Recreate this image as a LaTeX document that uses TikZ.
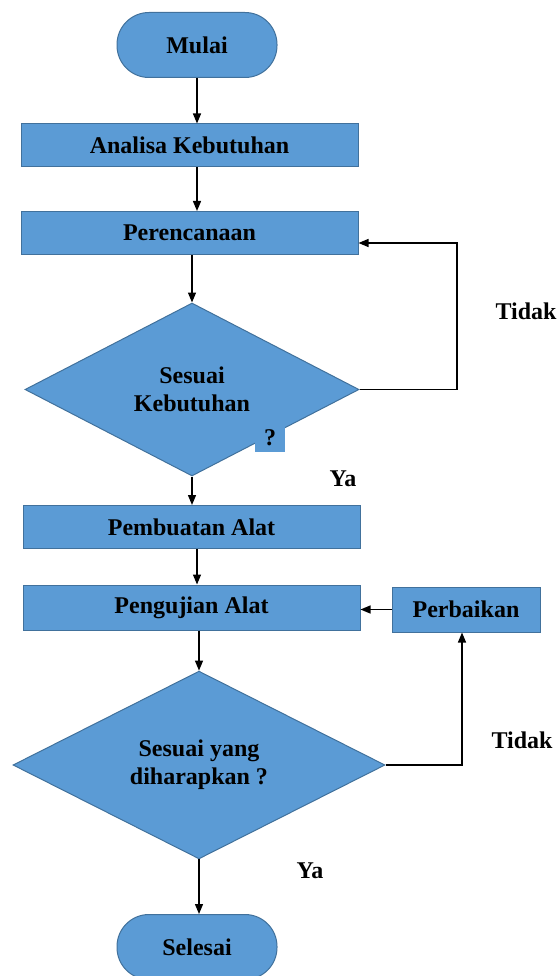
\documentclass[tikz,border=0pt]{standalone}
\usepackage{fontspec}
\setmainfont{Liberation Serif}
\usetikzlibrary{arrows.meta,positioning,shapes.geometric}
\definecolor{boxblue}{HTML}{5B9BD5}
\definecolor{boxline}{HTML}{41719C}

\begin{document}
\begin{tikzpicture}[x=1pt,y=-1pt,
    font=\fontsize{24}{28}\selectfont\bfseries,
    proses/.style={draw=boxline,fill=boxblue,line width=1pt,minimum width=337pt,minimum height=43pt,inner sep=0pt},
    terminal/.style={proses,rounded corners=32pt,minimum width=160pt,minimum height=65pt},
    keputusan/.style={draw=boxline,fill=boxblue,line width=1pt,diamond,inner sep=0pt,align=center},
    panah/.style={-{Triangle[length=10pt,width=8pt]},line width=1.3pt}]
    \useasboundingbox (0,0) rectangle (558,976);

    \node[terminal] (mulai) at (197,45) {Mulai};
    \node[proses] (analisa) at (189.5,145.5) {Analisa Kebutuhan};
    \node[proses] (perencanaan) at (189.5,233) {Perencanaan};
    \node[keputusan,minimum width=334pt,minimum height=173pt] (sesuai1) at (192,389.5) {Sesuai\\Kebutuhan};
    \node[fill=boxblue,minimum width=30pt,minimum height=28pt,inner sep=0pt] (tanya) at (270,438) {?};

    \node[proses] (pembuatan) at (191.5,527) {Pembuatan Alat};
    \node[proses,minimum height=45pt] (pengujian) at (191.5,607.5) {Pengujian Alat};
    \node[proses,minimum width=148pt,minimum height=45pt] (perbaikan) at (466,609.5) {Perbaikan};
    \node[keputusan,minimum width=372pt,minimum height=182pt] (sesuai2) at (199,765) {Sesuai yang\\diharapkan ?};
    \node[terminal] (selesai) at (197,947) {Selesai};

    \node (tidak1) at (526,311) {Tidak};
    \node (ya1) at (343,479) {Ya};
    \node (tidak2) at (522,740) {Tidak};
    \node (ya2) at (310,871) {Ya};

    \coordinate (balik1) at (457,243);
    \coordinate (balik2) at (462,765);

    \draw[panah] (mulai.south) -- (mulai.south |- analisa.north);
    \draw[panah] (analisa.south -| mulai.south) -- (perencanaan.north -| mulai.south);
    \draw[panah] (perencanaan.south -| sesuai1.north) -- (sesuai1.north);
    \draw[panah] (sesuai1.south) -- (sesuai1.south |- pembuatan.north);
    \draw[panah] (pembuatan.south -| mulai.south) -- (pengujian.north -| mulai.south);
    \draw[panah] (pengujian.south -| sesuai2.north) -- (sesuai2.north);
    \draw[panah] (sesuai2.south) -- (sesuai2.south |- selesai.north);

    \draw[panah] (sesuai1.east) -- (sesuai1.east -| balik1) -- (balik1) -- (balik1 -| perencanaan.east);
    \draw[panah] (sesuai2.east) -- (balik2) -- (balik2 |- perbaikan.south);
    \draw[panah] (perbaikan.west) -- (perbaikan.west -| pengujian.east);

\end{tikzpicture}
\end{document}
